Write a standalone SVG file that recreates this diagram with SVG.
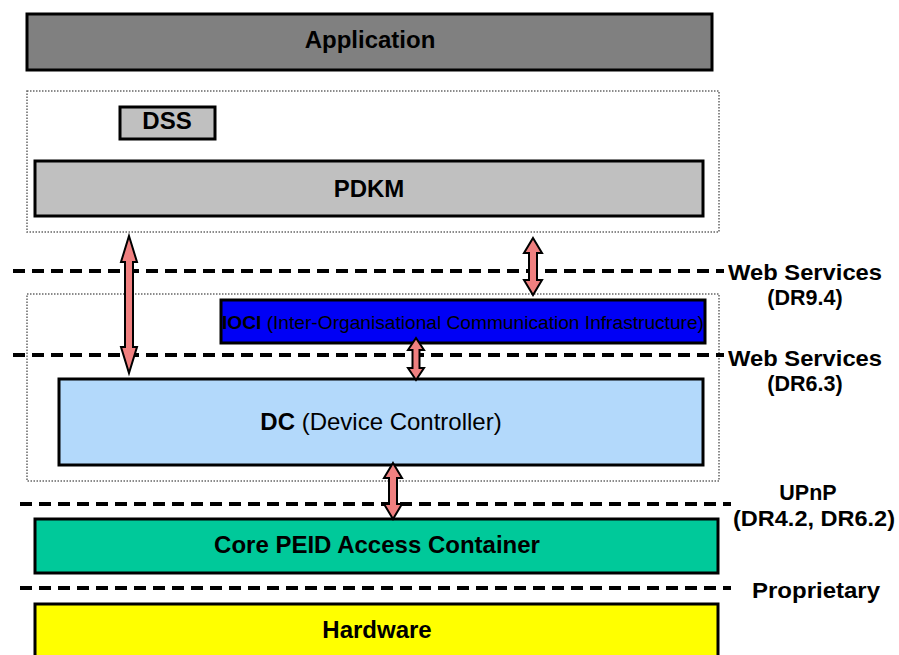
<svg xmlns="http://www.w3.org/2000/svg" width="899" height="655" viewBox="0 0 899 655">
<style>
.box{stroke:#000;stroke-width:3}
.grp{fill:none;stroke:#666;stroke-width:1.5;stroke-dasharray:1.5 1.5}
.dash{stroke:#000;stroke-width:4;stroke-dasharray:12 7}
.arr{fill:#f08080;stroke:#000;stroke-width:2;stroke-linejoin:miter}
text{font-family:"Liberation Sans",Arial,sans-serif;fill:#000}
.b{font-weight:bold;font-size:24px}
.lbl{font-weight:bold;font-size:21.5px}
</style>
<rect width="899" height="655" fill="#fff"/>
<g id="group-pdkm"><rect class="grp" x="27" y="91" width="692" height="141"/></g>
<g id="group-dc"><rect class="grp" x="27" y="294" width="692" height="187"/></g>
<g id="application"><rect class="box" x="27" y="14" width="685" height="56" fill="#808080"/><text class="b" x="370" y="48" text-anchor="middle">Application</text></g>
<g id="dss"><rect class="box" x="120" y="107" width="95" height="32" fill="#c0c0c0"/><text class="b" x="167" y="129" text-anchor="middle">DSS</text></g>
<g id="pdkm"><rect class="box" x="35" y="161" width="668" height="55" fill="#c0c0c0"/><text class="b" x="369" y="197" text-anchor="middle">PDKM</text></g>
<g id="ioci"><rect class="box" x="221" y="300" width="484" height="43" fill="#0000f5"/><text x="222" y="329" font-size="19" textLength="482" lengthAdjust="spacingAndGlyphs"><tspan font-weight="bold">IOCI</tspan> (Inter-Organisational Communication Infrastructure)</text></g>
<g id="dc"><rect class="box" x="59" y="379" width="644" height="86" fill="#b3d9fb"/><text x="381" y="430" font-size="24" text-anchor="middle"><tspan font-weight="bold">DC</tspan> (Device Controller)</text></g>
<g id="core"><rect class="box" x="35" y="519" width="683" height="54" fill="#00c99a"/><text class="b" x="377" y="553" text-anchor="middle">Core PEID Access Container</text></g>
<g id="hardware"><rect class="box" x="35" y="604" width="683" height="60" fill="#ffff00"/><text class="b" x="377" y="638" text-anchor="middle">Hardware</text></g>
<g id="interfaces">
<line class="dash" x1="13" y1="271" x2="724" y2="271"/>
<line class="dash" x1="13" y1="355" x2="724" y2="355"/>
<line class="dash" x1="20" y1="504" x2="731" y2="504"/>
<line class="dash" x1="20" y1="588" x2="731" y2="588"/>
<text class="lbl" x="728" y="280" textLength="154" lengthAdjust="spacingAndGlyphs">Web Services</text>
<text class="lbl" x="805" y="305" text-anchor="middle">(DR9.4)</text>
<text class="lbl" x="728" y="366" textLength="154" lengthAdjust="spacingAndGlyphs">Web Services</text>
<text class="lbl" x="805" y="391" text-anchor="middle">(DR6.3)</text>
<text class="lbl" x="808" y="500" text-anchor="middle">UPnP</text>
<text class="lbl" x="733" y="526" textLength="162" lengthAdjust="spacingAndGlyphs">(DR4.2, DR6.2)</text>
<text class="lbl" x="752" y="598" textLength="128" lengthAdjust="spacingAndGlyphs">Proprietary</text>
</g>
<g id="connectors">
<polygon class="arr" points="129,236 137,262 133,262 133,347 137,347 129,373 121,347 125,347 125,262 121,262"/>
<polygon class="arr" points="533,238 542,253 537,253 537,280 542,280 533,295 524,280 529,280 529,253 524,253"/>
<polygon class="arr" points="416,338 424,350 419.5,350 419.5,368 424,368 416,380 408,368 412.5,368 412.5,350 408,350"/>
<polygon class="arr" points="393,463 402,478 397,478 397,504 402,504 393,519 384,504 389,504 389,478 384,478"/>
</g>
</svg>
